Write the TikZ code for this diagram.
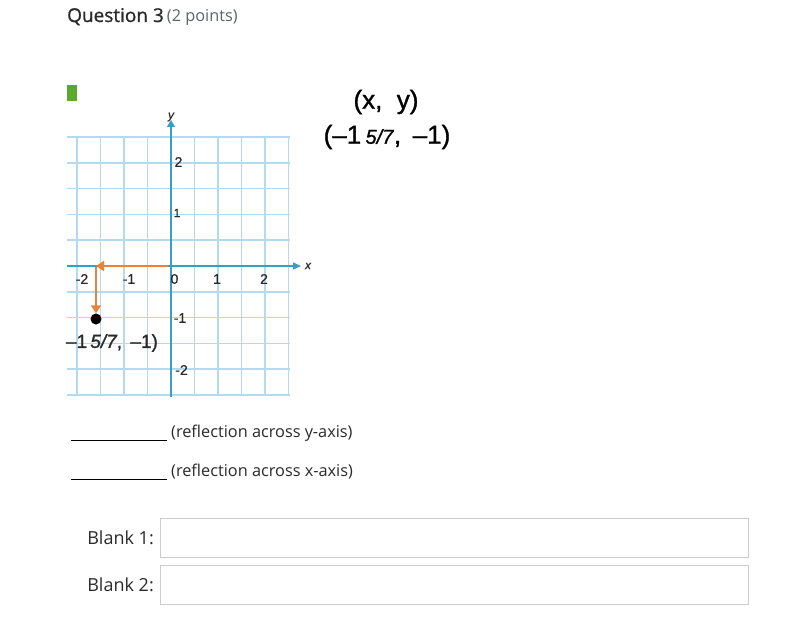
\documentclass[tikz,border=0pt]{standalone}
\usepackage{fontspec}
\setmainfont{Open Sans}
\newfontfamily\semib[FakeBold=0.9]{Open Sans}
\newfontfamily\graphfont[FakeBold=0.6]{Liberation Sans}
\newfontfamily\handfont[FakeBold=1.2]{Liberation Sans}
\usetikzlibrary{arrows.meta}
\definecolor{txt}{HTML}{2A2A2A}
\definecolor{gray6}{HTML}{5F6368}
\definecolor{gridc}{HTML}{B4DAF0}
\definecolor{axisc}{HTML}{3A9DC6}
\definecolor{orng}{HTML}{E8843A}
\definecolor{boxc}{HTML}{CCCCCC}
\definecolor{greenc}{HTML}{5DA82E}
\tikzset{
  gridline/.style={gridc, line width=1.6bp},
  axisline/.style={axisc, line width=1.4bp},
  orarrow/.style={orng, line width=2.8bp, -{Triangle[length=8bp,width=10bp]}},
  glabel/.style={font=\graphfont\fontsize{14bp}{16bp}\selectfont, text=txt, inner sep=0pt},
  body/.style={font=\fontsize{16.3bp}{19bp}\selectfont, text=txt, inner sep=0pt, anchor=base west},
  hand/.style={font=\handfont\fontsize{26bp}{28bp}\selectfont, text=black, inner sep=0pt},
  blankbox/.style={draw=boxc, line width=1bp, fill=white}
}
\begin{document}
\begin{tikzpicture}[x=1bp,y=-1bp]
\useasboundingbox (0,0) rectangle (808,635);
\fill[white] (0,0) rectangle (808,635);

% header
\node[body, font=\semib\fontsize{19bp}{21bp}\selectfont] (q) at (67,22) {Question 3};
\node[body, font=\fontsize{16.3bp}{19bp}\selectfont, text=gray6] (pts) at (q.base east) {\,(2 points)};

% green mark
\fill[greenc] (67,85) rectangle (77,101);
\coordinate (gm) at (72,93);

% grid
\foreach \yy in {137,162.8,188.6,214.4,240.2,291.8,317.6,343.4,369.2,395}
  \draw[gridline] (67,\yy) -- (290,\yy);
\foreach \xx in {77,100.5,124,147.5,194.5,218,241.5,265,288.5}
  \draw[gridline] (\xx,137) -- (\xx,396);

% axes
\coordinate (o) at (171,266);
\coordinate (ytop) at (171,120);
\coordinate (ybot) at (171,397);
\coordinate (xleft) at (67,266);
\coordinate (xright) at (301,266);
\draw[axisline, -{Triangle[length=7bp,width=8bp]}] (ybot) -- (ytop);
\draw[axisline, -{Triangle[length=8bp,width=7bp]}] (xleft) -- (xright);
\node[glabel, font=\graphfont\itshape\fontsize{12bp}{13bp}\selectfont] (ylab) at (171,117) {y};
\node[glabel, font=\graphfont\itshape\fontsize{12bp}{13bp}\selectfont] (xlab) at (308,266) {x};

% tick labels
\node[glabel] (xm2) at (82,279) {-2};
\node[glabel] (xm1) at (129,279) {-1};
\node[glabel] (x0) at (174.5,279) {0};
\node[glabel] (x1) at (217,279) {1};
\node[glabel] (x2) at (264,279) {2};
\node[glabel] (y2) at (178.5,162) {2};
\node[glabel, font=\graphfont\fontsize{12bp}{13bp}\selectfont] (y1) at (177,213) {1};
\node[glabel] (ym1) at (180,318) {-1};
\node[glabel] (ym2) at (181.5,370) {-2};

% orange arrows and point
\coordinate (corner) at (96,266);
\node[circle, fill=black, minimum size=11bp, inner sep=0pt] (pt) at (96,319) {};
\draw[orarrow] (168,266) -- (corner);
\draw[orarrow] (96,267) -- (pt.north);
\node[glabel, font=\handfont\fontsize{19bp}{21bp}\selectfont] (ptlab) at (112,343) {–1\,\textit{5/7},\;\,–1)};

% handwritten coordinates
\node[hand] (xy) at (386,102) {(x,\; y)};
\node[hand] (coord) at (387,137) {(–1\,{\fontsize{20bp}{22bp}\selectfont\textit{5/7}},\;\,–1)};

% blanks
\coordinate (u1a) at (71,440);
\coordinate (u1b) at (167,440);
\coordinate (u2a) at (71,479);
\coordinate (u2b) at (167,479);
\draw[black, line width=0.9bp] (u1a) -- (u1b);
\draw[black, line width=0.9bp] (u2a) -- (u2b);
\node[body] (r1) at (171,437) {(reflection across y-axis)};
\node[body] (r2) at (171,476) {(reflection across x-axis)};

% answer boxes
\node[body, font=\fontsize{18bp}{20bp}\selectfont, anchor=base east] (b1) at (154,544) {Blank 1:};
\node[body, font=\fontsize{18bp}{20bp}\selectfont, anchor=base east] (b2) at (154,591) {Blank 2:};
\draw[blankbox] (160,518) rectangle (748,557);
\draw[blankbox] (160,565) rectangle (748,604);
\end{tikzpicture}
\end{document}
